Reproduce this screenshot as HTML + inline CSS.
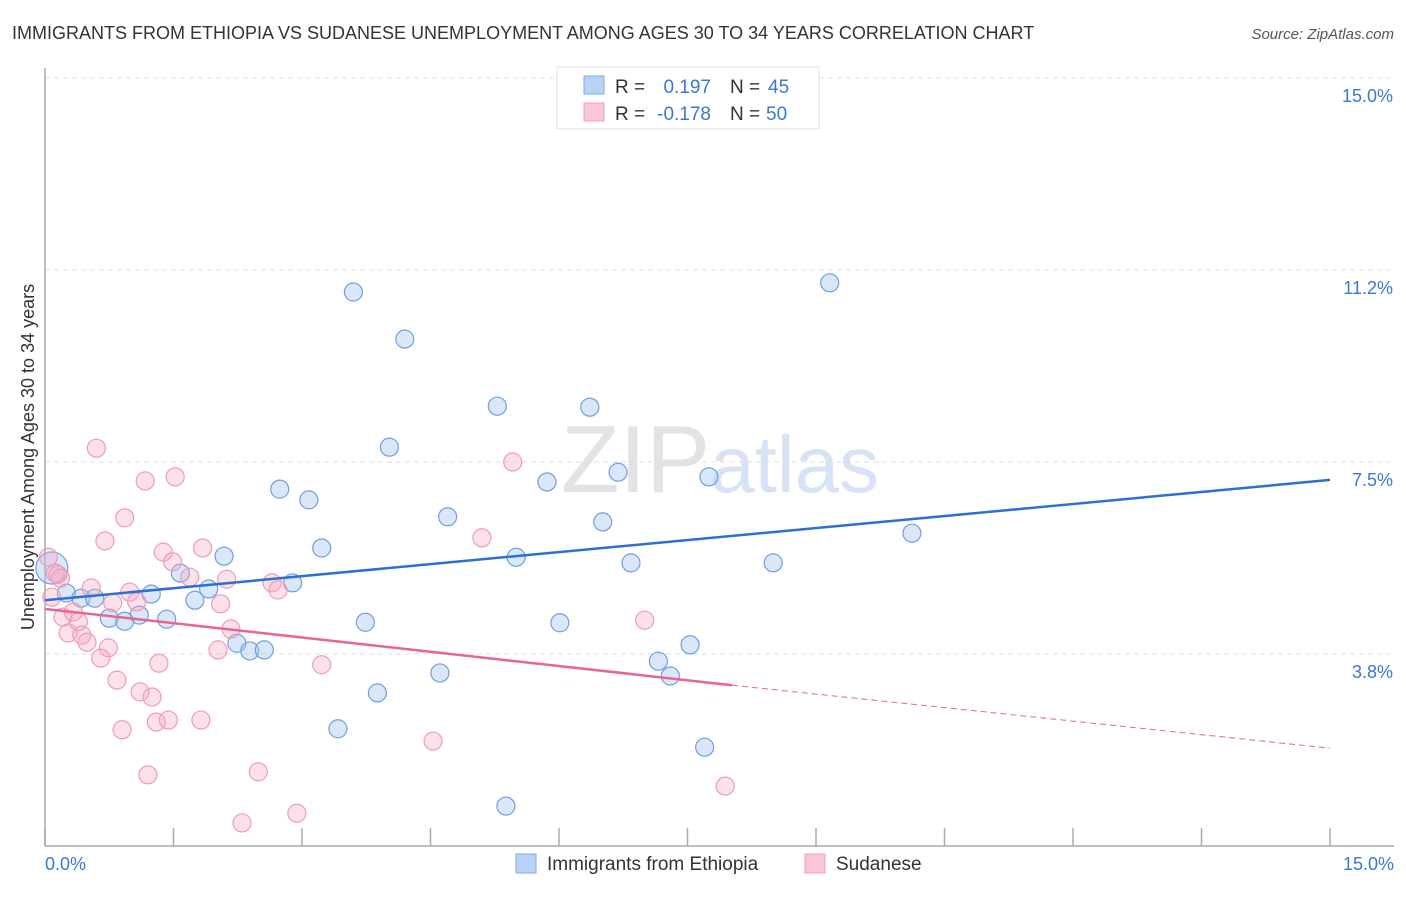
<!DOCTYPE html>
<html><head><meta charset="utf-8"><style>
body{margin:0;background:#fff;font-family:"Liberation Sans",sans-serif;}
svg text{font-family:"Liberation Sans",sans-serif;}
</style></head><body>
<svg id="chart" width="1406" height="892" viewBox="0 0 1406 892">
<text x="12" y="39" font-size="18" fill="#333">IMMIGRANTS FROM ETHIOPIA VS SUDANESE UNEMPLOYMENT AMONG AGES 30 TO 34 YEARS CORRELATION CHART</text>
<text x="1394" y="39" font-size="15" fill="#555" font-style="italic" text-anchor="end">Source: ZipAtlas.com</text>
<text x="720" y="492" font-size="96" fill="#e3e3e3" text-anchor="middle" font-family="Liberation Serif">ZIP<tspan fill="#d5e3f5" font-family="Liberation Sans" font-size="80">atlas</tspan></text>
<g id="grid"></g>
<g id="axes"></g>
<g id="marks"></g>
<text transform="translate(34,457) rotate(-90)" font-size="18" fill="#333" text-anchor="middle">Unemployment Among Ages 30 to 34 years</text>
<text x="45" y="870" font-size="18" fill="#3a78d6">0.0%</text>
<text x="1394" y="870" font-size="18" fill="#3a78d6" text-anchor="end">15.0%</text>
<g>
<rect x="557" y="67" width="262" height="62" fill="#fff" stroke="#ddd"/>
<rect x="584" y="76" width="20" height="18" fill="#b8d2f5" stroke="#7ea9e6"/>
<rect x="584" y="103" width="20" height="18" fill="#f9c6d6" stroke="#f0a0ba"/>
<text x="615" y="93" font-size="19" fill="#333">R =</text>
<text x="711" y="93" font-size="19" fill="#3a78d6" text-anchor="end">0.197</text>
<text x="730" y="93" font-size="19" fill="#333">N =</text>
<text x="768" y="93" font-size="19" fill="#3a78d6">45</text>
<text x="615" y="120" font-size="19" fill="#333">R =</text>
<text x="711" y="120" font-size="19" fill="#3a78d6" text-anchor="end">-0.178</text>
<text x="730" y="120" font-size="19" fill="#333">N =</text>
<text x="766" y="120" font-size="19" fill="#3a78d6">50</text>
</g>
<g>
<rect x="516" y="854" width="20" height="19" fill="#b8d2f5" stroke="#7ea9e6"/>
<text x="547" y="870" font-size="19" fill="#333">Immigrants from Ethiopia</text>
<rect x="805" y="854" width="20" height="19" fill="#f9c6d6" stroke="#f0a0ba"/>
<text x="836" y="870" font-size="19" fill="#333">Sudanese</text>
</g>
</svg>
<script>
const yTicks=[3.75,7.5,11.25,15];
const yTickLabels=["3.8%","7.5%","11.2%","15.0%"];
const xTicks=[0,1.5,3,4.5,6,7.5,9,10.5,12,13.5,15];
const blueX=[0.08,0.25,0.42,0.58,0.75,0.93,1.10,1.24,1.42,1.58,1.75,1.91,2.09,2.24,2.39,2.56,2.74,2.89,3.08,3.23,3.42,3.60,3.74,3.88,4.02,4.20,4.61,4.70,5.28,5.38,5.50,5.86,6.01,6.36,6.51,6.69,6.84,7.16,7.30,7.53,7.70,7.75,8.50,9.16,10.12];
const blueY=[5.43,4.94,4.84,4.84,4.45,4.39,4.51,4.92,4.43,5.33,4.80,5.02,5.66,3.96,3.81,3.83,6.97,5.14,6.76,5.82,2.29,10.82,4.37,2.99,7.79,9.90,3.38,6.43,8.59,0.78,5.64,7.11,4.36,8.57,6.33,7.30,5.53,3.61,3.32,3.93,1.93,7.21,5.53,11.00,6.11];
const pinkX=[0.04,0.12,0.18,0.08,0.21,0.33,0.27,0.39,0.43,0.49,0.54,0.70,0.74,0.65,0.79,0.84,0.90,0.93,0.99,1.07,1.11,1.25,1.30,1.44,1.20,1.33,1.38,1.49,1.69,1.84,1.82,2.05,2.02,2.12,2.17,2.30,2.49,2.65,2.72,2.94,3.23,0.60,1.17,1.52,5.10,5.46,4.53,7.00,7.94,0.15];
const pinkY=[5.64,5.33,5.23,4.86,4.47,4.57,4.16,4.38,4.12,3.98,5.04,5.96,3.87,3.67,4.75,3.24,2.27,6.41,4.96,4.77,3.01,2.91,2.42,2.46,1.39,3.57,5.74,5.55,5.25,5.82,2.46,4.73,3.83,5.21,4.24,0.45,1.45,5.14,5.00,0.64,3.54,7.77,7.13,7.21,6.02,7.50,2.05,4.41,1.17,5.30];
const blueTrendX=[0,15];
const blueTrendY=[4.80,7.15];
const pinkTrendX=[0,8.02,15];
const pinkTrendY=[4.63,3.14,1.91];

const NS="http://www.w3.org/2000/svg";
const xs=v=>45+v/15*1285;
const ys=v=>846-v/3.75*192;
function mk(tag,attrs,parent){const e=document.createElementNS(NS,tag);for(const k in attrs)e.setAttribute(k,attrs[k]);parent.appendChild(e);return e;}
const grid=document.getElementById('grid'),axes=document.getElementById('axes'),marks=document.getElementById('marks');
yTicks.forEach((t,i)=>{
  const l=mk('line',{x1:45,x2:1394,y1:ys(t),y2:ys(t),stroke:'#ddd','stroke-dasharray':'5,4'},grid);
  
  
  const tx=mk('text',{x:1393,y:ys(t)+24,'font-size':18,fill:'#3a78d6','text-anchor':'end'},grid);
  tx.textContent=yTickLabels[i];
  
  
});
const ya=mk('line',{x1:45,x2:45,y1:68,y2:846,stroke:'#aaa','stroke-width':1.5},axes);


const xa=mk('line',{x1:45,x2:1394,y1:846,y2:846,stroke:'#aaa','stroke-width':1.5},axes);


xTicks.forEach(t=>{
  const l=mk('line',{x1:xs(t),x2:xs(t),y1:828,y2:846,stroke:'#aaa','stroke-width':1.5},axes);
  
  
});
blueX.forEach((x,i)=>{
  const c=mk('circle',{cx:xs(x),cy:ys(blueY[i]),r:i===0?16:9,fill:'rgba(160,196,240,0.4)',stroke:'#6f9fe0','stroke-width':1.2},marks);
  
  
});
pinkX.forEach((x,i)=>{
  const c=mk('circle',{cx:xs(x),cy:ys(pinkY[i]),r:9,fill:'rgba(245,170,195,0.35)',stroke:'#ef9bb7','stroke-width':1.2},marks);
  
  
});
const bt=mk('line',{x1:xs(blueTrendX[0]),y1:ys(blueTrendY[0]),x2:xs(blueTrendX[1]),y2:ys(blueTrendY[1]),stroke:'#2c6fd6','stroke-width':2.5},marks);


const pt=mk('line',{x1:xs(pinkTrendX[0]),y1:ys(pinkTrendY[0]),x2:xs(pinkTrendX[1]),y2:ys(pinkTrendY[1]),stroke:'#e8658f','stroke-width':2.5},marks);


const pd=mk('line',{x1:xs(pinkTrendX[1]),y1:ys(pinkTrendY[1]),x2:xs(pinkTrendX[2]),y2:ys(pinkTrendY[2]),stroke:'#e8658f','stroke-width':1,'stroke-dasharray':'6,4'},marks);


</script>
</body></html>
